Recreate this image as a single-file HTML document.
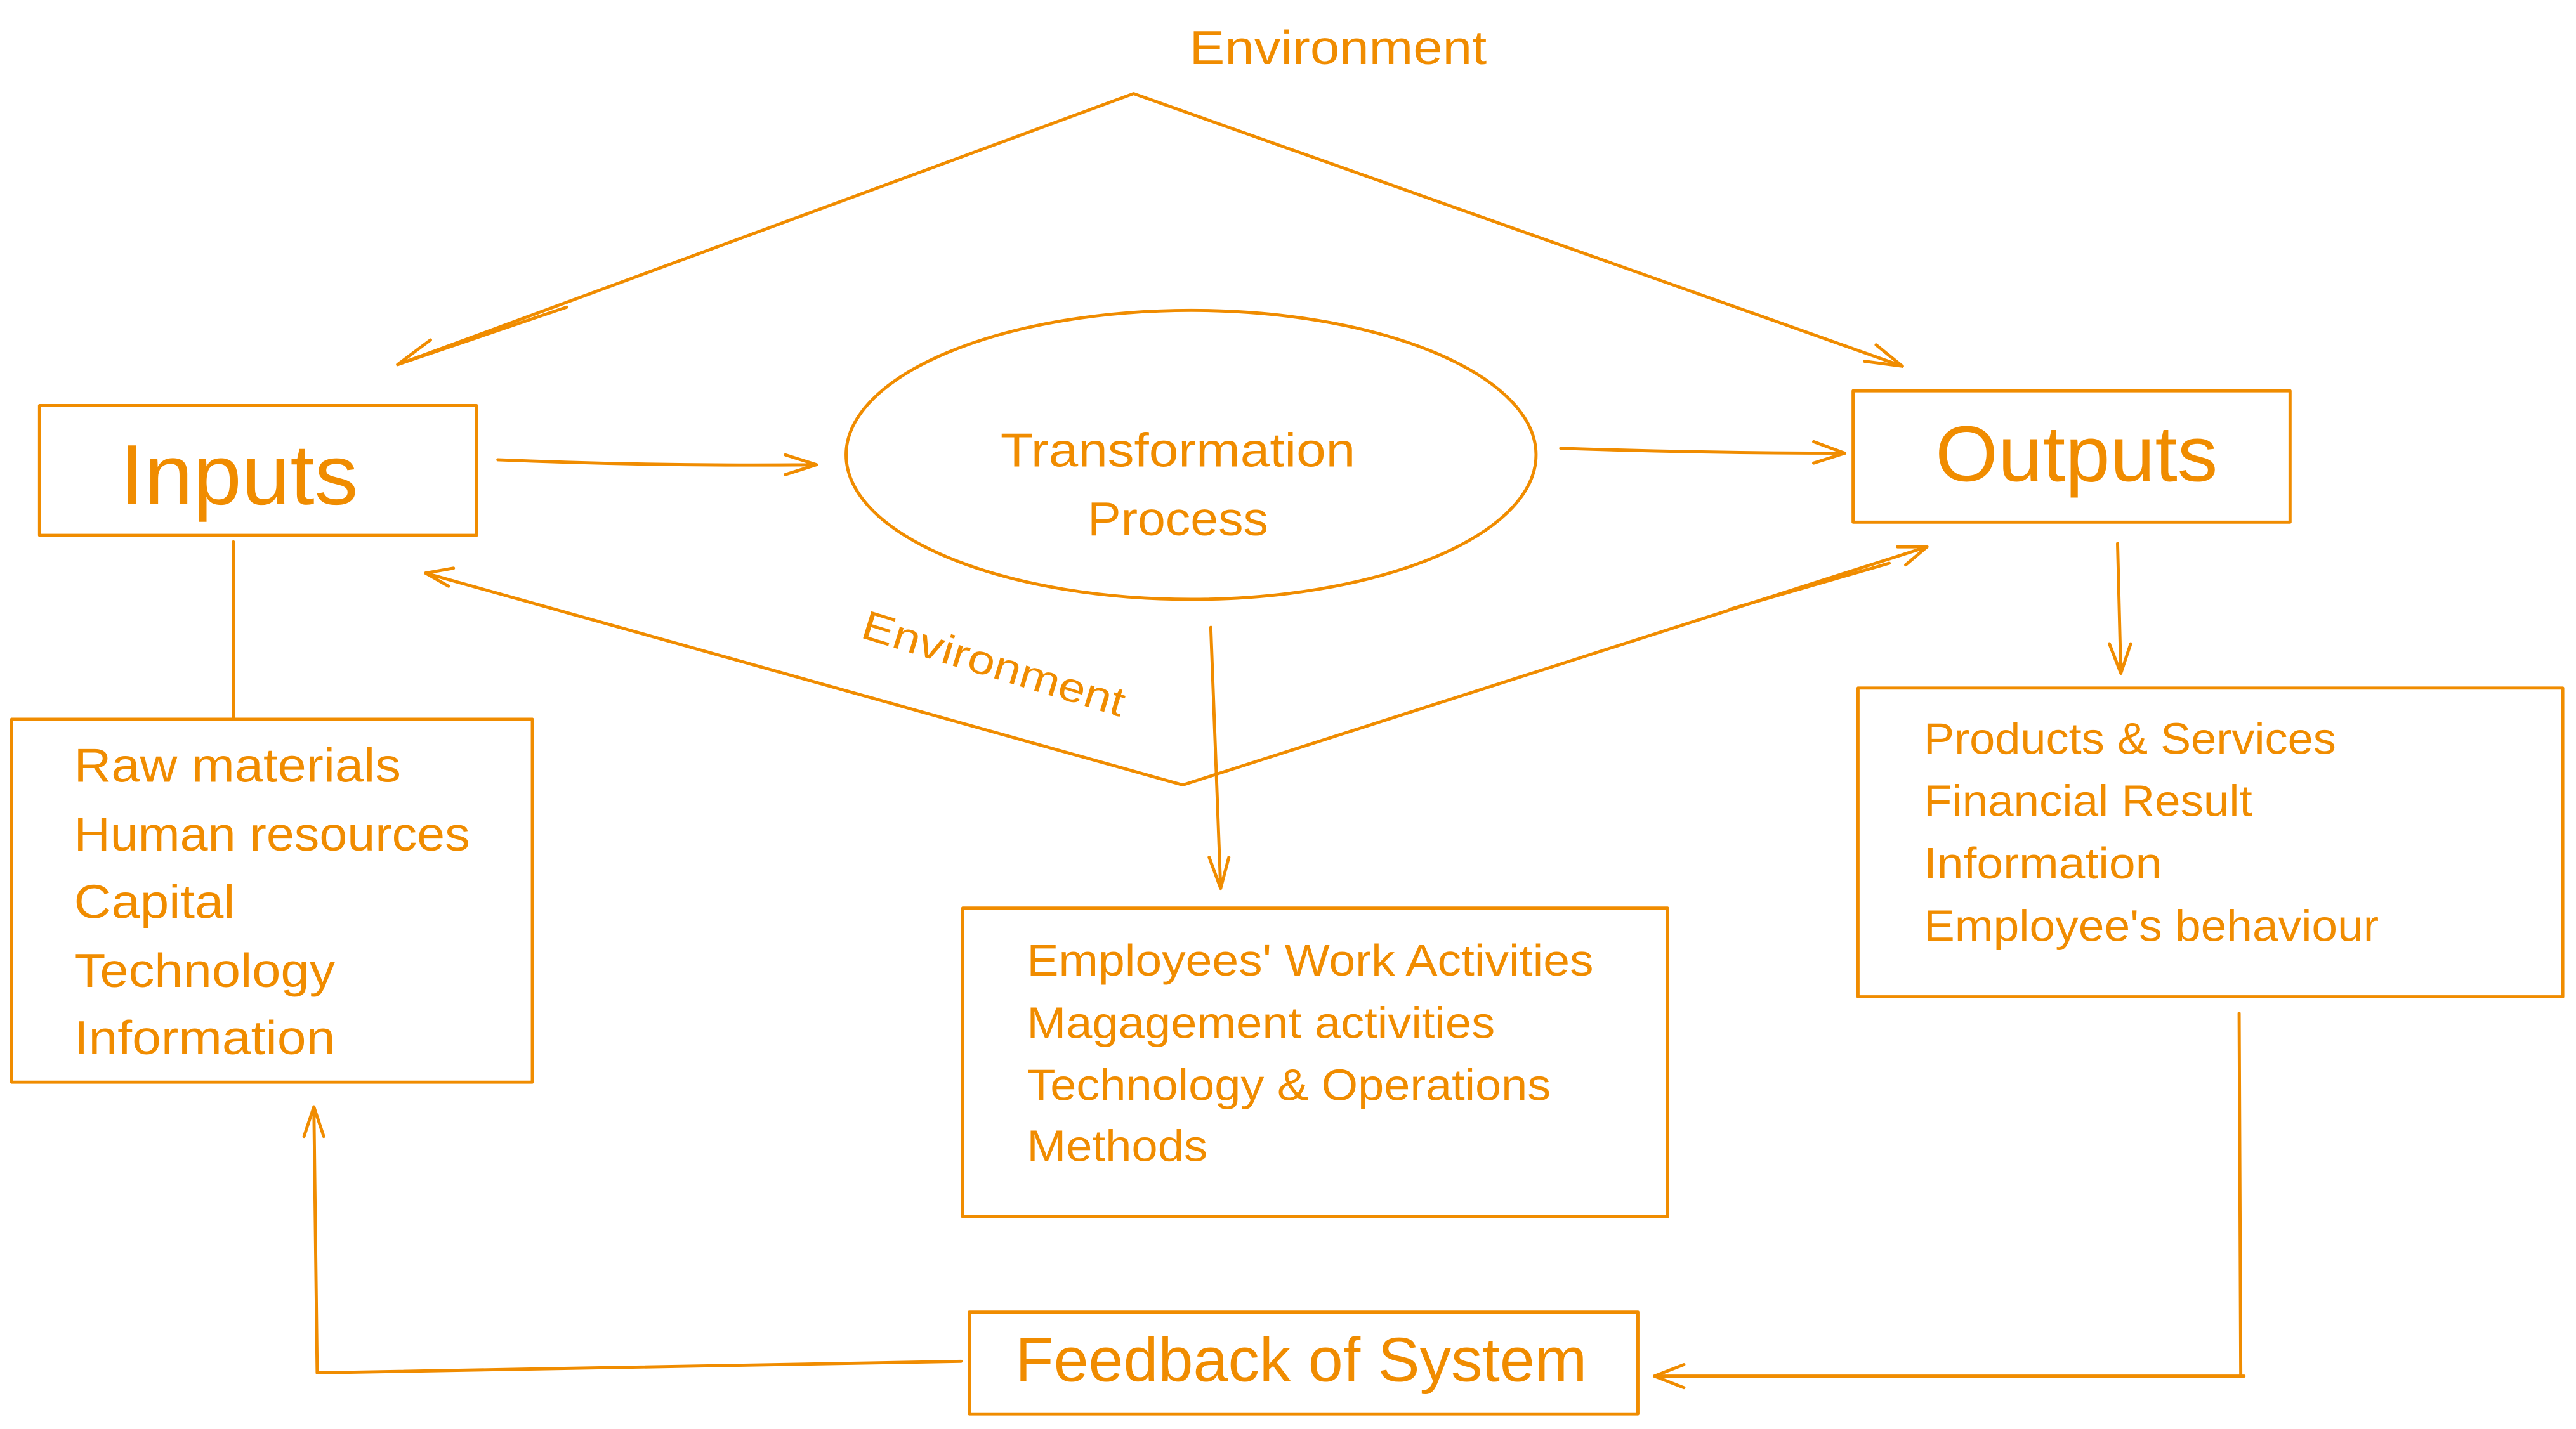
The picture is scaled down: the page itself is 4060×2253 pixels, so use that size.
<!DOCTYPE html>
<html><head><style>
html,body{margin:0;padding:0;background:#fff;}
svg{display:block;}
text{font-family:"Liberation Sans",sans-serif;fill:#f08c00;}
</style></head><body>
<svg width="4060" height="2253" viewBox="0 0 1568 870.2" xmlns="http://www.w3.org/2000/svg">
<g fill="none" stroke="#f08c00" stroke-width="1.9" stroke-linecap="round" stroke-linejoin="round">
<path d="M242,222 L690,57 L1158,223"/>
<path d="M242,222 L268,213 M242,222 L262,207 M242,222 L345,187"/>
<path d="M1158,223 L1135,220 M1158,223 L1142,210"/>
<rect x="24" y="247" width="266" height="79"/>
<path d="M303,280 Q400,284 497,283 M497,283 L478,277 M497,283 L478,289"/>
<ellipse cx="725" cy="277" rx="210" ry="88"/>
<path d="M950,273 Q1040,276 1123,276 M1123,276 L1104,269 M1123,276 L1104,282"/>
<rect x="1128" y="238" width="266" height="80"/>
<path d="M259,349 L720,478 L1173,333"/>
<path d="M259,349 L276,346 M259,349 L273,357"/>
<path d="M1173,333 L1155,333 M1173,333 L1160,344 M1053,371 L1150,343"/>
<path d="M142,330 L142,438"/>
<rect x="7" y="438" width="317" height="221"/>
<path d="M737,382 L743,541 M743,541 L736,522 M743,541 L748,522"/>
<rect x="586" y="553" width="429" height="188"/>
<path d="M1289,331 L1291,410 M1291,410 L1284,392 M1291,410 L1297,392"/>
<rect x="1131" y="419" width="429" height="188"/>
<path d="M1363,617 L1364,838 M1366,838 L1007,838 M1007,838 L1025,831 M1007,838 L1025,845"/>
<rect x="590" y="799" width="407" height="62"/>
<path d="M585,829 L193,836 M193,836 L191,674 M191,674 L185,692 M191,674 L197,692"/>
</g>
<text x="724" y="39" font-size="29" textLength="181" lengthAdjust="spacingAndGlyphs">Environment</text>
<text x="73" y="307" font-size="52" textLength="145" lengthAdjust="spacingAndGlyphs">Inputs</text>
<text x="609" y="284" font-size="29" textLength="216" lengthAdjust="spacingAndGlyphs">Transformation</text>
<text x="662" y="326" font-size="29" textLength="110" lengthAdjust="spacingAndGlyphs">Process</text>
<text x="1178" y="293" font-size="48" textLength="172" lengthAdjust="spacingAndGlyphs">Outputs</text>
<text x="523" y="388" font-size="25" transform="rotate(17 523 388)" textLength="166" lengthAdjust="spacingAndGlyphs">Environment</text>
<g font-size="29">
<text x="45" y="476" textLength="199" lengthAdjust="spacingAndGlyphs">Raw materials</text>
<text x="45" y="518" textLength="241" lengthAdjust="spacingAndGlyphs">Human resources</text>
<text x="45" y="559" textLength="98" lengthAdjust="spacingAndGlyphs">Capital</text>
<text x="45" y="601" textLength="159" lengthAdjust="spacingAndGlyphs">Technology</text>
<text x="45" y="642" textLength="159" lengthAdjust="spacingAndGlyphs">Information</text>
</g>
<g font-size="27">
<text x="625" y="594" textLength="345" lengthAdjust="spacingAndGlyphs">Employees' Work Activities</text>
<text x="625" y="632" textLength="285" lengthAdjust="spacingAndGlyphs">Magagement activities</text>
<text x="625" y="670" textLength="319" lengthAdjust="spacingAndGlyphs">Technology &amp; Operations</text>
<text x="625" y="707" textLength="110" lengthAdjust="spacingAndGlyphs">Methods</text>
<text x="1171" y="459" textLength="251" lengthAdjust="spacingAndGlyphs">Products &amp; Services</text>
<text x="1171" y="497" textLength="200" lengthAdjust="spacingAndGlyphs">Financial Result</text>
<text x="1171" y="535" textLength="145" lengthAdjust="spacingAndGlyphs">Information</text>
<text x="1171" y="573" textLength="277" lengthAdjust="spacingAndGlyphs">Employee's behaviour</text>
</g>
<text x="618" y="841" font-size="38" textLength="348" lengthAdjust="spacingAndGlyphs">Feedback of System</text>
</svg>
</body></html>
